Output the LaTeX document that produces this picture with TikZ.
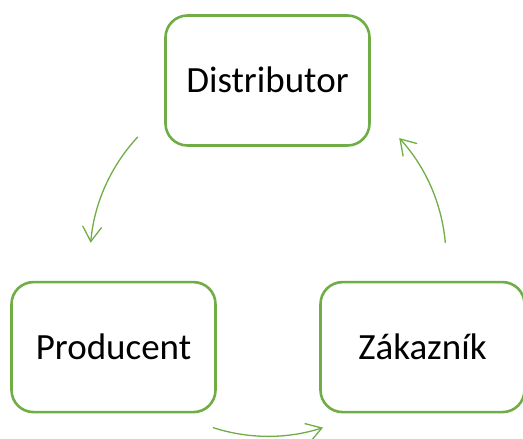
\documentclass[tikz,border=0pt]{standalone}
\usepackage{fontspec}
\setmainfont{Carlito}
\usetikzlibrary{arrows.meta,positioning}
\definecolor{leafgreen}{HTML}{70AD47}

\begin{document}
\begin{tikzpicture}[x=1pt,y=1pt,>={Straight Barb[length=15pt,width=19pt]},
                    node distance=134pt]
  \tikzstyle{party}=[draw=leafgreen,line width=2.6pt,rounded corners=22pt,
                     minimum width=204pt,minimum height=130pt,
                     text height=24pt,text depth=0pt,
                     font=\fontsize{37}{44}\selectfont]
  \tikzstyle{flow}=[->,draw=leafgreen,line width=1.3pt]
  \useasboundingbox (0,0) rectangle (523,439);

  \node[party]		(D) at (267.5,358.5)		{Distributor};
  \node[party]		(P) [below=of D,xshift=-154pt]	{Producent};
  \node[party]		(Z) [below=of D,xshift=155pt]	{Zákazník};
  \coordinate		(hub) at (268,180.7);

  \draw[flow] (hub) ++(137:178) arc[start angle=137,end angle=175,radius=178];
  \draw[flow] (hub) ++(252:178) arc[start angle=252,end angle=288,radius=178];
  \draw[flow] (hub) ++(5:178)   arc[start angle=5,end angle=42.5,radius=178];

\end{tikzpicture}
\end{document}
